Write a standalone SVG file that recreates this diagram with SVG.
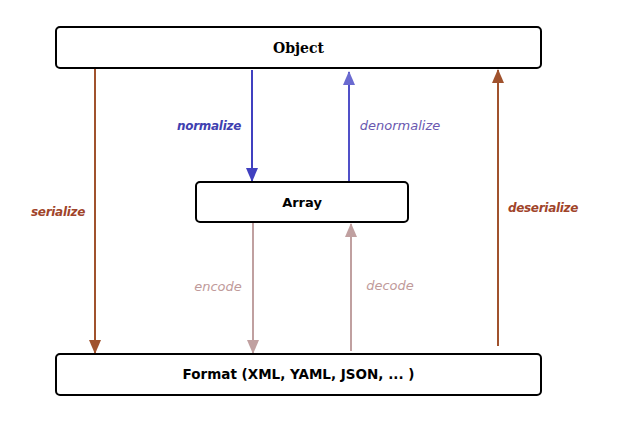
<svg xmlns="http://www.w3.org/2000/svg" width="620" height="426" viewBox="0 0 620 426">
<defs>
<marker id="hBrown" markerWidth="14" markerHeight="12" refX="13" refY="6" orient="auto" markerUnits="userSpaceOnUse" viewBox="0 0 14 12"><path d="M0,0 L14,6 L0,12 Z" fill="#A0522D"/></marker>
<marker id="hBlue" markerWidth="14" markerHeight="12" refX="13" refY="6" orient="auto" markerUnits="userSpaceOnUse" viewBox="0 0 14 12"><path d="M0,0 L14,6 L0,12 Z" fill="#4040C0"/></marker>
<marker id="hBlue2" markerWidth="14" markerHeight="12" refX="13" refY="6" orient="auto" markerUnits="userSpaceOnUse" viewBox="0 0 14 12"><path d="M0,0 L14,6 L0,12 Z" fill="#6A6AD0"/></marker>
<marker id="hPink" markerWidth="14" markerHeight="12" refX="13" refY="6" orient="auto" markerUnits="userSpaceOnUse" viewBox="0 0 14 12"><path d="M0,0 L14,6 L0,12 Z" fill="#C0A0A0"/></marker>
</defs>
<style>
.box{fill:#fff;stroke:#000;stroke-width:2}
.t{font-family:"DejaVu Sans",Verdana,sans-serif;font-weight:bold;font-size:13px;text-anchor:middle;fill:#000}
.ts{font-family:"DejaVu Serif","Liberation Serif",serif;font-weight:bold;font-size:14px;text-anchor:middle;fill:#000}
.lab{font-family:"DejaVu Sans",Verdana,sans-serif;font-style:italic;font-size:13px;text-anchor:middle}
.b{font-weight:bold;font-size:12px;letter-spacing:-0.3px}
.c{fill:none;stroke-width:2}
</style>
<rect width="620" height="426" fill="#fff"/>
<g id="connectors">
<line class="c" x1="95" y1="69" x2="95" y2="353" stroke="#A0522D" marker-end="url(#hBrown)"/>
<line class="c" x1="498" y1="346" x2="498" y2="70" stroke="#A0522D" marker-end="url(#hBrown)"/>
<line class="c" x1="252" y1="70" x2="252" y2="181" stroke="#4040C0" marker-end="url(#hBlue)"/>
<line class="c" x1="349" y1="181" x2="349" y2="72" stroke="#5050C8" marker-end="url(#hBlue2)"/>
<line class="c" x1="253" y1="223" x2="253" y2="353" stroke="#C0A0A0" marker-end="url(#hPink)"/>
<line class="c" x1="351" y1="351" x2="351" y2="224" stroke="#C0A0A0" marker-end="url(#hPink)"/>
<text class="lab b" x="209" y="130" fill="#4040B0">normalize</text>
<text class="lab" x="400" y="130" fill="#6A58B0">denormalize</text>
<text class="lab b" x="58" y="216" fill="#A0442A">serialize</text>
<text class="lab b" x="543" y="212" fill="#A0442A">deserialize</text>
<text class="lab" x="218" y="291" fill="#C09A9A">encode</text>
<text class="lab" x="390" y="290" fill="#C09A9A">decode</text>
</g>
<g id="object">
<rect class="box" x="56" y="27" width="485" height="41" rx="4"/>
<text class="ts" x="298.5" y="53">Object</text>
</g>
<g id="array">
<rect class="box" x="196" y="182" width="212" height="40" rx="4"/>
<text class="t" x="302" y="207">Array</text>
</g>
<g id="format">
<rect class="box" x="56" y="354" width="485" height="41" rx="4"/>
<text class="t" x="298.5" y="379" style="font-size:13.5px">Format (XML, YAML, JSON, ... )</text>
</g>
</svg>
